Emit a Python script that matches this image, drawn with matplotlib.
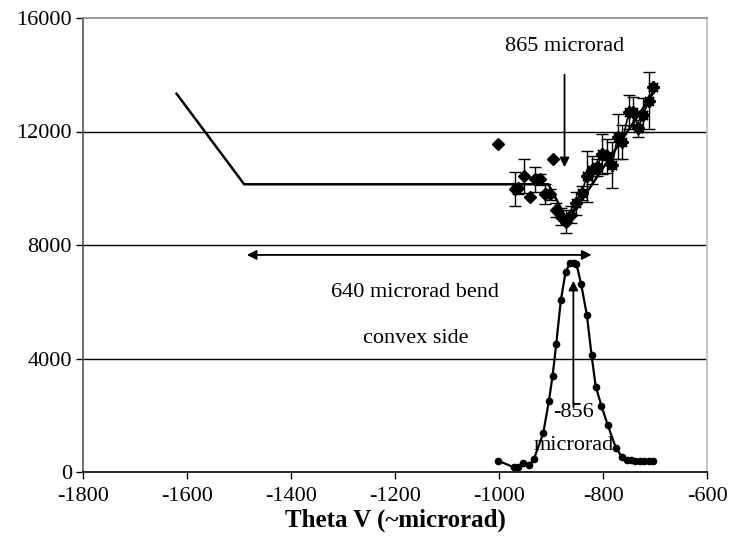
import matplotlib
matplotlib.use("Agg")
import matplotlib.pyplot as plt

plt.rcParams['font.family'] = ['Liberation Serif', 'DejaVu Serif']

# Peak (lower) series
peak_x = [-1002, -972, -963, -953, -942, -933, -915, -904, -897, -890, -881, -872,
          -864, -856, -851, -842, -831, -822, -814, -803, -791, -775, -763, -754,
          -746, -738, -729, -721, -712, -703]
peak_y = [400, 170, 190, 300, 250, 450, 1360, 2510, 3380, 4500, 6060, 7040,
          7350, 7360, 7330, 6620, 5530, 4120, 3010, 2330, 1660, 840, 520, 430,
          410, 400, 400, 400, 400, 400]

# Upper data (diamonds with error bars)
data_x = [-970, -963, -951, -941, -931, -921, -911, -902, -890, -881, -871, -861,
          -851, -841, -831, -822, -812, -801, -792, -782, -772, -763, -750, -742,
          -732, -723, -711, -703]
data_y = [9960, 10000, 10430, 9700, 10310, 10310, 9790, 9790, 9230, 9000, 8820, 9060,
          9470, 9840, 10430, 10640, 10740, 11200, 11140, 10820, 11820, 11640, 12700, 12700,
          12110, 12580, 13090, 13560]
data_err = [600, 200, 600, 0, 450, 200, 350, 200, 250, 300, 400, 300,
            400, 250, 900, 500, 300, 700, 600, 800, 800, 600, 600, 500,
            300, 600, 1000, 0]

# Outlier diamonds
out_x = [-1002, -897]
out_y = [11560, 11040]

# Model / fit line
fit_x = [-1620, -1490, -905, -868, -700]
fit_y = [13330, 10140, 10140, 8850, 13450]

xticks = [-1800, -1600, -1400, -1200, -1000, -800, -600]
yticks = [0, 4000, 8000, 12000, 16000]

FS = 16

fig = plt.figure(figsize=(7.31, 5.57), dpi=100)
ax = fig.add_axes([83/731, 1 - 472/557, (707 - 83)/731, (472 - 18)/557])

ax.set_xlim(-1800, -600)
ax.set_ylim(0, 16000)

for yv in yticks[1:-1]:
    ax.axhline(yv, color='black', lw=1.0, zorder=1)

ax.plot(fit_x, fit_y, color='black', lw=1.8, zorder=3)

ax.errorbar(data_x, data_y, yerr=data_err, fmt='none', ecolor='black',
            elinewidth=1.0, capsize=4, capthick=1.0, zorder=4)
ax.plot(data_x[8:], data_y[8:], color='black', lw=1.2, zorder=4)
ax.plot(data_x, data_y, linestyle='none', marker='D', markersize=6.5,
        color='black', zorder=5)
ax.plot(data_x[12:], data_y[12:], linestyle='none', marker=(8, 2, 0), markersize=9,
        color='black', markeredgewidth=1.2, zorder=5)
ax.plot(out_x, out_y, linestyle='none', marker='D', markersize=6.5, color='black', zorder=5)

ax.plot(peak_x, peak_y, color='black', lw=1.6, marker='o', markersize=4.5, zorder=5)

# Annotations
ax.annotate('', xy=(-874, 10740), xytext=(-874, 14000),
            arrowprops=dict(arrowstyle='-|>', color='black', lw=1.3,
                            mutation_scale=14, shrinkA=0, shrinkB=0))
ax.text(-874, 15000, '865 microrad', ha='center', va='center', fontsize=FS)

ax.annotate('', xy=(-1485, 7650), xytext=(-822, 7650),
            arrowprops=dict(arrowstyle='<|-|>', color='black', lw=1.3,
                            mutation_scale=14, shrinkA=0, shrinkB=0))
ax.text(-1161, 6310, '640 microrad bend', ha='center', va='center', fontsize=FS)
ax.text(-1161, 4690, 'convex side', ha='center', va='center', fontsize=FS)

ax.annotate('', xy=(-857, 6740), xytext=(-857, 2300),
            arrowprops=dict(arrowstyle='-|>', color='black', lw=1.3,
                            mutation_scale=14, shrinkA=0, shrinkB=0))
ax.text(-857, 2080, '-856', ha='center', va='center', fontsize=FS)
ax.text(-857, 920, 'microrad', ha='center', va='center', fontsize=FS)

ax.set_xticks(xticks)
ax.set_yticks(yticks)
ax.set_xticklabels([str(v) for v in xticks])
ax.set_yticklabels([str(v) for v in yticks])
ax.tick_params(direction='out', length=5, width=1, labelsize=FS, pad=3)
ax.tick_params(axis='x', pad=6)

ax.spines['left'].set_color('#555555')
ax.spines['bottom'].set_color('black')
ax.spines['top'].set_color('#888888')
ax.spines['right'].set_color('#bbbbbb')
for s in ax.spines.values():
    s.set_linewidth(1.2)

ax.set_xlabel('Theta V (~microrad)', fontsize=18, fontweight='bold', labelpad=2)

fig.savefig('out.png', dpi=100)
